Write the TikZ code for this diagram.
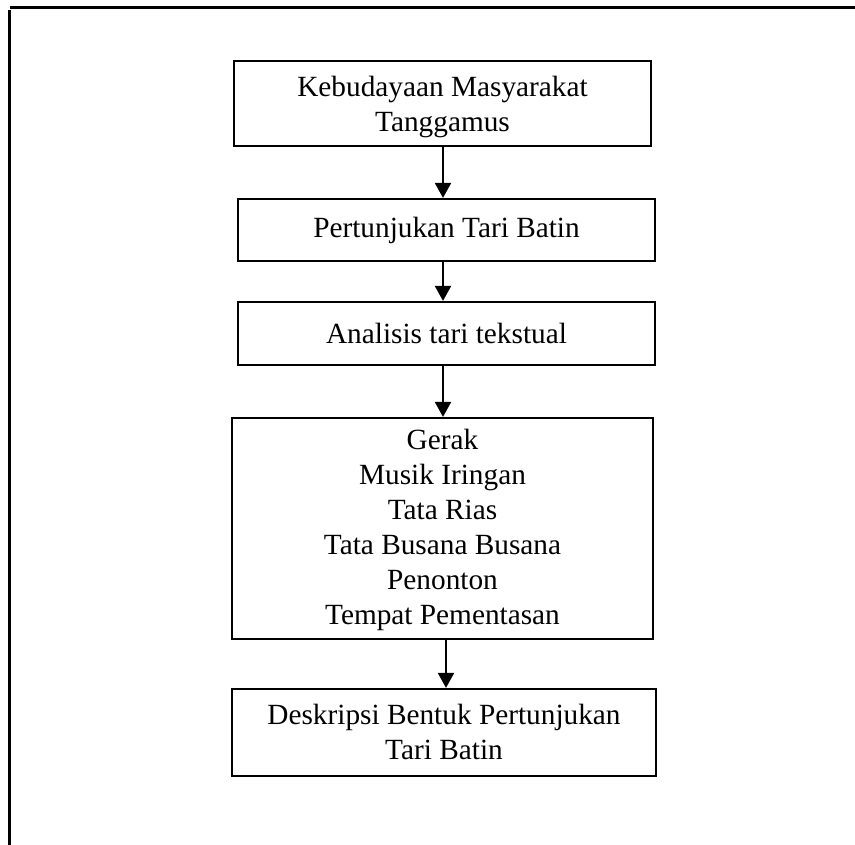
\documentclass[tikz,border=0pt]{standalone}
\usepackage{fontspec}
\setmainfont{Liberation Serif}
\usetikzlibrary{arrows.meta}
\begin{document}
\begin{tikzpicture}[x=1pt,y=-1pt,
  box/.style={draw=black,line width=2.2pt,align=center,inner sep=0pt,
    font=\fontsize{29.3}{34.5}\selectfont},
  lbl/.style={align=center,inner sep=0pt,font=\fontsize{29.3}{34.5}\selectfont},
  conn/.style={line width=2.2pt,-{Triangle[width=16pt,length=15pt]}},
  frame/.style={line width=2.2pt}]
\useasboundingbox (0,0) rectangle (855,845);
% outer frame
\coordinate (ftl) at (10,7.5);
\coordinate (ftr) at (855,7.5);
\coordinate (fl1) at (9.5,10);
\coordinate (fl2) at (9.5,845);
\draw[frame] (ftl) -- (ftr);
\draw[frame] (fl1) -- (fl2);
% boxes
\node[box,minimum width=417pt,minimum height=85pt] (b1) at (442.5,103.5) {};
\node[lbl] (t1) at (442.5,107) {Kebudayaan Masyarakat\\Tanggamus};
\node[box,minimum width=417pt,minimum height=62pt] (b2) at (446.5,230)
  {Pertunjukan Tari Batin};
\node[box,minimum width=417pt,minimum height=63pt] (b3) at (446.5,333.5)
  {Analisis tari tekstual};
\node[box,minimum width=421pt,minimum height=221pt] (b4) at (442.5,528.5) {};
\node[lbl,font=\fontsize{29.3}{35}\selectfont] (t4) at (442.5,530)
  {Gerak\\Musik Iringan\\Tata Rias\\Tata Busana Busana\\Penonton\\Tempat Pementasan};
\node[box,minimum width=424pt,minimum height=87pt] (b5) at (444,732.5) {};
\node[lbl,anchor=north] (t5) at (444,704)
  {Deskripsi Bentuk Pertunjukan\\Tari Batin};
% connectors
\draw[conn] (b1.south -| 443,0) -- (b2.north -| 443,0);
\draw[conn] (b2.south -| 443,0) -- (b3.north -| 443,0);
\draw[conn] (b3.south -| 443,0) -- (b4.north -| 443,0);
\draw[conn] (b4.south -| 446,0) -- (b5.north -| 446,0);
\end{tikzpicture}
\end{document}
